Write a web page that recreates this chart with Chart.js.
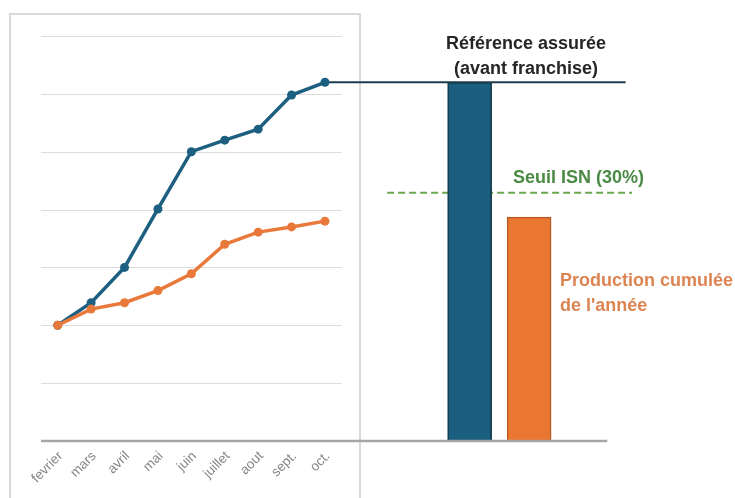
<!DOCTYPE html>
<html>
<head>
<meta charset="utf-8">
<script src="https://cdn.jsdelivr.net/npm/chart.js@4.4.1/dist/chart.umd.min.js"></script>
<style>
  html, body { margin: 0; padding: 0; background: #fff; }
  #wrap { width: 735px; height: 498px; }
</style>
</head>
<body>
<div id="wrap"><canvas id="c"></canvas></div>
<script>
// months of the inset line chart
const months = ['fevrier', 'mars', 'avril', 'mai', 'juin', 'juillet', 'aout', 'sept.', 'oct.'];
// cumulated values, in grid units
const reference = [2.0, 2.39, 3.0, 4.01, 5.0, 5.2, 5.39, 5.98, 6.2];
const production = [2.0, 2.28, 2.39, 2.6, 2.89, 3.4, 3.61, 3.7, 3.8];
const yTicks = [0, 1, 2, 3, 4, 5, 6, 7];
// the two bars on the right (x in the same linear units as the months)
const barX = [12.33, 14.11];
const barValues = [6.2, 3.87];
const barColors = ['#1b5e7f', '#e97631'];
const barBorders = ['#0f3346', '#b95a22'];
// "Seuil ISN" threshold and reference level
const threshold = 4.29;
const thresholdX = [9.86, 17.19];
const refLevel = 6.2;
const refLineX = [8, 17.0];

const BLUE = '#1d5f80';
const ORANGE = '#e9793b';

const decor = {
  id: 'decor',
  beforeDatasetsDraw(chart) {
    const { ctx, scales: { x, y } } = chart;
    ctx.save();
    // inset frame
    ctx.strokeStyle = '#d9d9d9';
    ctx.lineWidth = 2;
    ctx.strokeRect(10, 14, 350, 500);
    // gridlines only inside the inset
    ctx.lineWidth = 1;
    ctx.strokeStyle = '#dcdcdc';
    const x0 = x.getPixelForValue(-0.5);
    const x1 = x.getPixelForValue(months.length - 0.5);
    yTicks.slice(1).forEach(t => {
      const py = Math.round(y.getPixelForValue(t)) + 0.5;
      ctx.beginPath();
      ctx.moveTo(x0, py);
      ctx.lineTo(x1, py);
      ctx.stroke();
    });
    ctx.restore();
  },
  afterDatasetsDraw(chart) {
    const { ctx, scales: { x, y } } = chart;
    ctx.save();
    // baseline running under both parts
    ctx.strokeStyle = '#a6a6a6';
    ctx.lineWidth = 2.5;
    const py = y.getPixelForValue(0);
    ctx.beginPath();
    ctx.moveTo(x.getPixelForValue(-0.5), py);
    ctx.lineTo(x.getPixelForValue(16.45), py);
    ctx.stroke();

    // month labels, slanted
    ctx.font = '13.5px "Liberation Sans", Arial, sans-serif';
    ctx.fillStyle = '#858585';
    ctx.textAlign = 'right';
    ctx.textBaseline = 'middle';
    months.forEach((m, i) => {
      ctx.save();
      ctx.translate(x.getPixelForValue(i) + 3, py + 13);
      ctx.rotate(-Math.PI / 4);
      ctx.fillText(m, 0, 0);
      ctx.restore();
    });

    ctx.font = 'bold 18px "Liberation Sans", Arial, sans-serif';
    ctx.textBaseline = 'middle';
    ctx.textAlign = 'center';
    ctx.fillStyle = '#262626';
    ctx.fillText('Référence assurée', 526, 44);
    ctx.fillText('(avant franchise)', 526, 69);

    ctx.textAlign = 'left';
    ctx.fillStyle = '#4b8a45';
    ctx.fillText('Seuil ISN (30%)', 513, 178);

    ctx.fillStyle = '#dc8452';
    ctx.fillText('Production cumulée', 560, 281);
    ctx.fillText("de l'année", 560, 306);
    ctx.restore();
  }
};

new Chart(document.getElementById('c'), {
  type: 'line',
  data: {
    datasets: [
      {
        label: 'Référence',
        data: reference.map((v, i) => ({ x: i, y: v })),
        borderColor: BLUE,
        backgroundColor: BLUE,
        borderWidth: 3.5,
        pointRadius: 4.5,
        pointBorderWidth: 0,
        clip: false,
        order: 1
      },
      {
        label: 'Production',
        data: production.map((v, i) => ({ x: i, y: v })),
        borderColor: ORANGE,
        backgroundColor: ORANGE,
        borderWidth: 3.5,
        pointRadius: 4.5,
        pointBorderWidth: 0,
        clip: false,
        order: 0
      },
      {
        label: 'Niveau référence',
        data: refLineX.map(v => ({ x: v, y: refLevel })),
        borderColor: '#1f3b4c',
        borderWidth: 2,
        pointRadius: 0,
        clip: false,
        order: 1
      },
      {
        type: 'bar',
        label: 'Barres',
        data: barX.map((v, i) => ({ x: v, y: barValues[i] })),
        backgroundColor: barColors,
        borderColor: barBorders,
        borderWidth: 1.5,
        barThickness: 44,
        grouped: false,
        order: 2
      },
      {
        label: 'Seuil ISN',
        data: thresholdX.map(v => ({ x: v, y: threshold })),
        borderColor: '#6aa84f',
        borderWidth: 2,
        borderDash: [7, 4],
        pointRadius: 0,
        clip: false,
        order: 3
      }
    ]
  },
  options: {
    responsive: true,
    maintainAspectRatio: false,
    animation: false,
    layout: { padding: { left: 41, right: 103, top: 36, bottom: 57 }, autoPadding: false },
    plugins: {
      legend: { display: false },
      tooltip: { enabled: false }
    },
    scales: {
      x: {
        type: 'linear',
        display: false,
        offset: false,
        min: -0.5,
        max: 17.19
      },
      y: {
        display: false,
        min: 0,
        max: 7
      }
    }
  },
  plugins: [decor]
});
</script>
</body>
</html>
